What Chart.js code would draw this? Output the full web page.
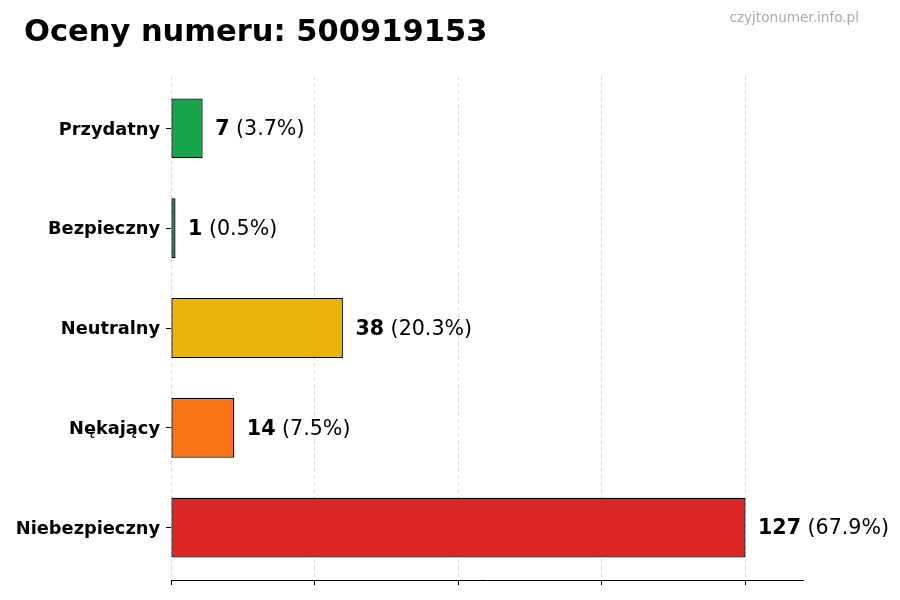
<!DOCTYPE html>
<html>
<head>
<meta charset="utf-8">
<script src="https://cdn.jsdelivr.net/npm/chart.js@4/dist/chart.umd.min.js"></script>
<style>
  html, body { margin: 0; padding: 0; background: #fff; }
  #wrap { width: 900px; height: 600px; position: relative; }
</style>
</head>
<body>
<div id="wrap"><canvas id="ratingsChart" width="900" height="600"></canvas></div>
<script>
// chart data
const titleText = "Oceny numeru: 500919153";
const siteName = "czyjtonumer.info.pl";
const categories = ["Przydatny", "Bezpieczny", "Neutralny", "Nękający", "Niebezpieczny"];
const counts = [7, 1, 38, 14, 127];
const barColors = ["#17a44a", "#138f5e", "#eab308", "#f97316", "#dc2626"];
const xGridValues = [0, 31.75, 63.5, 95.25, 127];
const xMax = 139.7;

const total = counts.reduce((a, b) => a + b, 0);

// title, watermark and value labels next to bars
const decorPlugin = {
  id: "decor",
  afterDraw(chart) {
    const ctx = chart.ctx;
    ctx.save();
    ctx.fillStyle = "#000";
    ctx.font = "bold 30.5px 'DejaVu Sans'";
    ctx.textBaseline = "alphabetic";
    ctx.textAlign = "left";
    ctx.fillText(titleText, 24, 41);

    ctx.fillStyle = "#aaaaaa";
    ctx.font = "13.6px 'DejaVu Sans'";
    ctx.textAlign = "right";
    ctx.fillText(siteName, 859, 22);

    const meta = chart.getDatasetMeta(0);
    ctx.textAlign = "left";
    ctx.textBaseline = "middle";
    meta.data.forEach((bar, i) => {
      const pct = (counts[i] / total * 100).toFixed(1);
      let x = bar.x + 12.5;
      const y = bar.y + 1.5;
      ctx.fillStyle = "#000";
      ctx.font = "bold 20.6px 'DejaVu Sans'";
      const num = String(counts[i]);
      ctx.fillText(num, x, y);
      x += ctx.measureText(num).width;
      ctx.font = "20.6px 'DejaVu Sans'";
      ctx.fillText(" (" + pct + "%)", x, y);
    });
    ctx.restore();
  }
};

const ctx = document.getElementById("ratingsChart").getContext("2d");
new Chart(ctx, {
  type: "bar",
  data: {
    labels: categories,
    datasets: [{
      data: counts,
      backgroundColor: barColors,
      borderColor: "#000",
      borderWidth: 1.3,
      borderSkipped: false,
      barPercentage: 0.6,
      categoryPercentage: 1.0
    }]
  },
  options: {
    indexAxis: "y",
    responsive: false,
    animation: false,
    devicePixelRatio: 1,
    layout: { padding: { top: 76, right: 97, bottom: 14, left: 16 } },
    plugins: {
      legend: { display: false },
      tooltip: { enabled: false },
      title: { display: false }
    },
    scales: {
      x: {
        min: 0,
        max: xMax,
        z: 1,
        afterBuildTicks: (scale) => {
          scale.ticks = xGridValues.map((v) => ({ value: v }));
        },
        afterFit: (scale) => { scale.height = 6; },
        ticks: { display: false },
        grid: {
          color: "rgba(190,190,190,0.7)",
          lineWidth: 0.8,
          tickColor: "#000",
          tickWidth: 1,
          tickLength: 5,
          drawTicks: true
        },
        border: { display: true, color: "#000", width: 1, dash: [4, 3] }
      },
      y: {
        // small extra margin above and below the bars, like the reference
        afterBuildTicks: (scale) => {
          scale._startValue = -0.525;
          scale._valueRange = 5.05;
        },
        afterFit: (scale) => { scale.width = 155; },
        ticks: {
          color: "#000",
          padding: 6,
          labelOffset: 1.5,
          font: { family: "DejaVu Sans", size: 17.8, weight: "bold" }
        },
        grid: {
          offset: false,
          drawOnChartArea: false,
          drawTicks: true,
          tickLength: 5,
          tickColor: "#000",
          tickWidth: 1
        },
        border: { display: false }
      }
    }
  },
  plugins: [decorPlugin]
});
</script>
</body>
</html>
